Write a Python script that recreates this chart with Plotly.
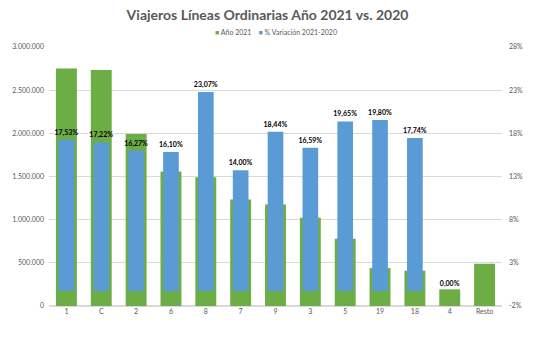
import plotly.graph_objects as go

categories = ["1", "C", "2", "6", "8", "7", "9", "3", "5", "19", "18", "4", "Resto"]
viajeros_2021 = [2750000, 2733000, 1993000, 1557000, 1491000, 1234000, 1176000,
                 1022000, 779000, 439000, 409000, 193000, 490000]
variacion = [0.1753, 0.1722, 0.1627, 0.1610, 0.2307, 0.1400, 0.1844,
             0.1659, 0.1965, 0.1980, 0.1774, 0.0000, None]
left_ticks = [0, 500000, 1000000, 1500000, 2000000, 2500000, 3000000]
right_min = -0.0173
right_ticks = [right_min + 0.05 * k for k in range(7)]
right_ticktext = ["-2%", "3%", "8%", "13%", "18%", "23%", "28%"]
series_names = ["Año 2021", "% Variación 2021-2020"]
series_colors = ["#6DAD45", "#5B9BD5"]

fig = go.Figure()
fig.add_trace(go.Bar(
    x=categories, y=viajeros_2021, name=series_names[0],
    marker=dict(color=series_colors[0], line=dict(width=0)),
    width=0.6, yaxis="y",
))
fig.add_trace(go.Bar(
    x=categories, y=variacion, name=series_names[1],
    marker=dict(color=series_colors[1], line=dict(width=0)),
    width=0.45, yaxis="y2", base=0,
    texttemplate="%{y:.2%}", textposition="outside", constraintext="none",
    textfont=dict(family="Lato", size=7, color="#000000", weight="bold"),
    cliponaxis=False,
))

# legend drawn as compact text entries
fig.add_annotation(
    xref="paper", yref="paper", x=0.5, y=1.058, xanchor="center", yanchor="middle",
    showarrow=False,
    text=(f"<span style='color:{series_colors[0]}'>■</span> {series_names[0]}"
          f"&nbsp;&nbsp;&nbsp;&nbsp;<span style='color:{series_colors[1]}'>■</span> {series_names[1]}"),
    font=dict(family="Lato", size=7, color="#595959"),
)

fig.update_layout(
    width=535, height=349,
    margin=dict(l=37, r=32, t=47, b=43),
    barmode="overlay",
    separators=",.",
    paper_bgcolor="white", plot_bgcolor="white",
    font=dict(family="Lato", color="#595959", size=7),
    title=dict(text="Viajeros Líneas Ordinarias Año 2021 vs. 2020",
               x=0.5, xanchor="center", y=0.958, yanchor="middle",
               font=dict(family="Lato", size=14, color="#595959", weight="bold")),
    showlegend=False,
    xaxis=dict(type="category", showgrid=False, showline=False, ticks="",
               tickfont=dict(size=7, color="#595959"),
               range=[-0.5, len(categories) - 0.5]),
    yaxis=dict(range=[0, 3000000], tickvals=left_ticks, tickformat=",d",
               showgrid=True, gridcolor="#D9D9D9", gridwidth=1,
               zeroline=True, zerolinecolor="#D9D9D9",
               tickfont=dict(size=7, color="#595959"), ticks="", ticklen=0,
               ticklabelstandoff=4),
    yaxis2=dict(range=[right_min, right_min + 0.30], overlaying="y", side="right",
                tickvals=right_ticks, ticktext=right_ticktext,
                showgrid=False, zeroline=False,
                tickfont=dict(size=7, color="#595959"), ticks="",
                ticklabelstandoff=6),
)

fig.write_html("out.html")
